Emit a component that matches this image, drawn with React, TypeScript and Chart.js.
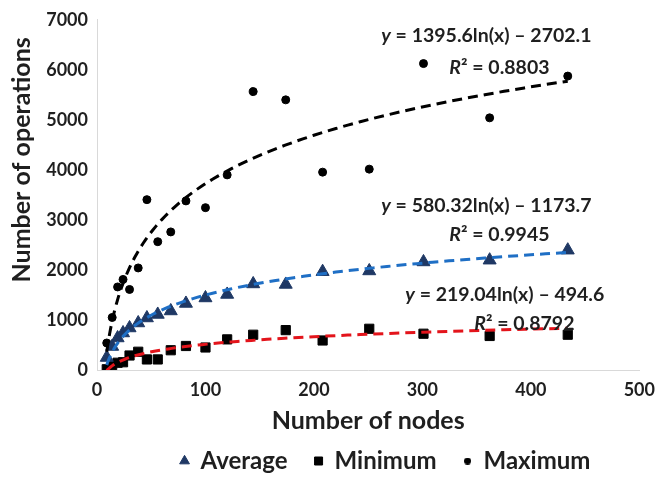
import React, { useEffect, useRef } from "react";
import { Chart, registerables } from "chart.js";

Chart.register(...registerables);

// ---- data ----
const nodes = [9, 14, 19, 24, 30, 38, 46, 56, 68, 82, 100, 120, 144, 174, 208, 251, 301, 362, 434];
const averageOps = [250, 470, 640, 740, 840, 940, 1040, 1110, 1180, 1330, 1440, 1510, 1720, 1710, 1965, 1980, 2160, 2195, 2395];
const minimumOps = [15, 100, 145, 155, 290, 365, 211, 211, 395, 480, 450, 612, 705, 797, 590, 824, 725, 680, 705];
const maximumOps = [540, 1050, 1660, 1810, 1610, 2040, 3405, 2565, 2760, 3380, 3245, 3900, 5565, 5400, 3955, 4015, 6125, 5040, 5875];

// logarithmic trendlines y = a ln(x) + b, and their R²
const averageFit = [580.32, -1173.7];
const minimumFit = [219.04, -494.6];
const maximumFit = [1395.6, -2702.1];
const averageR2 = "0.9945";
const minimumR2 = "0.8792";
const maximumR2 = "0.8803";

const xTicks = [0, 100, 200, 300, 400, 500];
const yTicks = [0, 1000, 2000, 3000, 4000, 5000, 6000, 7000];

const xTitle = "Number of nodes";
const yTitle = "Number of operations";

const FONT = "Lato, 'Open Sans', sans-serif";
const TEXT = "#1f1f1f";

function trendPoints(fit: number[]) {
  const lo = Math.min(...nodes);
  const hi = Math.max(...nodes);
  const pts: { x: number; y: number }[] = [];
  const n = 80;
  for (let i = 0; i <= n; i++) {
    const x = lo * Math.pow(hi / lo, i / n);
    pts.push({ x, y: fit[0] * Math.log(x) + fit[1] });
  }
  return pts;
}

function eqText(fit: number[]) {
  return ` = ${fit[0]}ln(x) \u2013 ${(-fit[1]).toString()}`;
}

// label anchors (in data units) for the trendline equations
const labelAnchors = [
  { x: 359, y: 6680, segs: [{ t: "y", it: true }, { t: eqText(maximumFit) }] },
  { x: 371, y: 6047, segs: [{ t: "R", it: true }, { t: "\u00B2" }, { t: " = " + maximumR2 }] },
  { x: 359, y: 3280, segs: [{ t: "y", it: true }, { t: eqText(averageFit) }] },
  { x: 371, y: 2707, segs: [{ t: "R", it: true }, { t: "\u00B2" }, { t: " = " + averageR2 }] },
  { x: 376, y: 1502, segs: [{ t: "y", it: true }, { t: eqText(minimumFit) }] },
  { x: 394, y: 929, segs: [{ t: "R", it: true }, { t: "\u00B2" }, { t: " = " + minimumR2 }] },
];

const eqPlugin = {
  id: "eqLabels",
  afterDatasetsDraw(chart: any) {
    const { ctx, scales } = chart;
    const sx = scales.x;
    const sy = scales.y;
    ctx.save();
    ctx.textBaseline = "middle";
    ctx.fillStyle = TEXT;
    for (const lab of labelAnchors) {
      const fonts = lab.segs.map((s: any) => `${s.it ? "italic " : ""}bold 19.5px ${FONT}`);
      let total = 0;
      const widths = lab.segs.map((s: any, i: number) => {
        ctx.font = fonts[i];
        const w = ctx.measureText(s.t).width;
        total += w;
        return w;
      });
      let cx = sx.getPixelForValue(lab.x) - total / 2;
      const cy = sy.getPixelForValue(lab.y);
      lab.segs.forEach((s: any, i: number) => {
        ctx.font = fonts[i];
        ctx.textAlign = "left";
        ctx.fillText(s.t, cx, cy);
        cx += widths[i];
      });
    }
    ctx.restore();
  },
};

// y-axis title: the reference places it above the axis middle (centred near 5000 operations)
const yTitlePlugin = {
  id: "yTitle",
  afterDraw(chart: any) {
    const { ctx, scales } = chart;
    const cy = scales.y.getPixelForValue(4200);
    ctx.save();
    ctx.translate(22, cy);
    ctx.rotate(-Math.PI / 2);
    ctx.font = `bold 25px ${FONT}`;
    ctx.fillStyle = TEXT;
    ctx.textAlign = "center";
    ctx.textBaseline = "middle";
    ctx.fillText(yTitle, 0, 0);
    ctx.restore();
  },
};

// the reference legend sits to the right of the canvas centre
const legendShift = {
  id: "legendShift",
  afterLayout(chart: any) {
    const lg = chart.legend;
    if (lg) {
      lg.left += 64;
      lg.right += 64;
    }
  },
};

function dotImage(d: number) {
  const c = document.createElement("canvas");
  c.width = d;
  c.height = d;
  const g = c.getContext("2d")!;
  g.fillStyle = "#000";
  g.beginPath();
  g.arc(d / 2, d / 2, d / 2, 0, Math.PI * 2);
  g.fill();
  return c;
}

export default function App() {
  const ref = useRef<HTMLCanvasElement | null>(null);

  useEffect(() => {
    if (!ref.current) return;
    const smallDot = dotImage(7);
    const trendBase = {
      type: "line" as const,
      pointRadius: 0,
      borderWidth: 3,
      borderDash: [10, 6],
      fill: false,
      tension: 0,
      showLine: true,
    };
    const tickFont = { family: FONT, size: 18, weight: "bold" as const };
    const chart = new Chart(ref.current, {
      type: "scatter",
      data: {
        datasets: [
          { ...trendBase, label: "trend-avg", data: trendPoints(averageFit), borderColor: "#1f6fc5" },
          { ...trendBase, label: "trend-min", data: trendPoints(minimumFit), borderColor: "#e3141b" },
          { ...trendBase, label: "trend-max", data: trendPoints(maximumFit), borderColor: "#000000" },
          {
            label: "Average",
            data: nodes.map((x, i) => ({ x, y: averageOps[i] })),
            pointStyle: "triangle",
            pointRadius: 7.5,
            backgroundColor: "#1f3864",
            borderColor: "#1f3864",
            borderWidth: 1,
          },
          {
            label: "Minimum",
            data: nodes.map((x, i) => ({ x, y: minimumOps[i] })),
            pointStyle: "rect",
            pointRadius: 6.5,
            backgroundColor: "#000000",
            borderColor: "#000000",
            borderWidth: 1,
          },
          {
            label: "Maximum",
            data: nodes.map((x, i) => ({ x, y: maximumOps[i] })),
            pointStyle: "circle",
            pointRadius: 4,
            backgroundColor: "#000000",
            borderColor: "#000000",
            borderWidth: 1,
          },
        ],
      },
      options: {
        animation: false,
        responsive: true,
        maintainAspectRatio: false,
        layout: { padding: { top: 15, right: 21, bottom: 0, left: 0 } },
        plugins: {
          tooltip: { enabled: false },
          legend: {
            position: "bottom",
            maxHeight: 56,
            labels: {
              usePointStyle: true,
              boxWidth: 8,
              boxHeight: 8,
              padding: 27,
              color: TEXT,
              font: { family: FONT, size: 24, weight: "bold" },
              filter: (item: any) => item.datasetIndex >= 3,
              generateLabels: (ch: any) => {
                const items = Chart.defaults.plugins.legend.labels.generateLabels(ch);
                return items.map((it: any) => (it.datasetIndex === 5 ? { ...it, pointStyle: smallDot } : it));
              },
            },
          },
        },
        scales: {
          x: {
            type: "linear",
            min: 0,
            max: 500,
            afterBuildTicks: (s: any) => {
              s.ticks = xTicks.map((v) => ({ value: v }));
            },
            afterFit: (s: any) => {
              s.height = 52;
            },
            grid: { display: false, drawTicks: false },
            border: { display: true, color: "#d9d9d9", width: 1 },
            ticks: { padding: 9, color: TEXT, font: tickFont, callback: (v: any) => String(v) },
            title: {
              display: true,
              text: xTitle,
              color: TEXT,
              font: { family: FONT, size: 25, weight: "bold" },
              padding: { top: 0, bottom: -14 },
            },
          },
          y: {
            type: "linear",
            min: 0,
            max: 7000,
            afterBuildTicks: (s: any) => {
              s.ticks = yTicks.map((v) => ({ value: v }));
            },
            afterFit: (s: any) => {
              s.width = 97;
            },
            grid: { display: false, drawTicks: false },
            border: { display: true, color: "#d9d9d9", width: 1 },
            ticks: { padding: 9, color: TEXT, font: tickFont, callback: (v: any) => String(v) },
            title: { display: false },
          },
        },
      },
      plugins: [eqPlugin, yTitlePlugin, legendShift],
    } as any);
    return () => chart.destroy();
  }, []);

  return (
    <div style={{ position: "fixed", left: 0, top: 0, width: 664, height: 478, background: "#fff" }}>
      <canvas ref={ref} />
    </div>
  );
}
